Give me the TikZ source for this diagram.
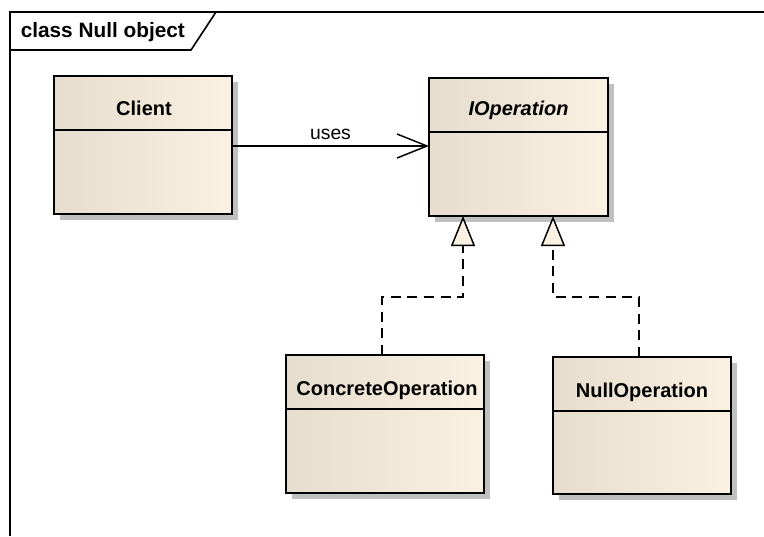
\documentclass[tikz,border=0pt]{standalone}
\usepackage{fontspec}
\setmainfont{Liberation Sans}
\usetikzlibrary{arrows.meta,calc}
\definecolor{clsL}{RGB}{230,221,206}
\definecolor{clsM}{RGB}{249,239,224}
\definecolor{clsR}{RGB}{251,241,227}
\definecolor{shad}{RGB}{192,192,192}
\begin{document}
\begin{tikzpicture}[x=0.75pt,y=-0.75pt,
  cls/.style={draw=black, line width=1.5pt, left color=clsL, middle color=clsM, right color=clsR,
    inner sep=0pt, outer sep=0pt, anchor=north west, minimum height=103.5pt},
  clsname/.style={anchor=base, inner sep=0pt, font=\fontsize{15}{18}\selectfont\bfseries},
  divider/.style={line width=1.5pt},
  uses/.style={line width=1.1pt, -{Straight Barb[length=22.5pt,width=18pt,line width=1.1pt]}},
  realize/.style={line width=1.1pt, dash pattern=on 7.5pt off 5pt,
    -{Triangle[open,fill=clsR,length=22.5pt,width=18pt,line width=1.1pt]}},
  frameline/.style={line width=1.2pt}
]
\useasboundingbox[fill=white] (0,0) rectangle (764,536);

% frame
\draw[frameline] (10,536) -- (10,12) -- (764,12);
\draw[frameline] (10,50) -- (191,50) -- (216,12);
\node[anchor=base west, inner sep=0pt, font=\fontsize{15.6}{18}\selectfont\bfseries] (title) at (20.5,37.5) {class Null object};

% shadows
\fill[shad] (60,82) rectangle (238,220);
\fill[shad] (435,84) rectangle (614,222);
\fill[shad] (292,361) rectangle (490,499);
\fill[shad] (559,363) rectangle (737,500);

% classes
\node[cls, minimum width=133.5pt] (client) at (54,76) {};
\draw[divider] ($(client.north west)+(0,54)$) -- ($(client.north east)+(0,54)$);
\node[clsname] (clientname) at ($(client.north)+(1,39)$) {Client};

\node[cls, minimum width=134.25pt] (iop) at (429,78) {};
\draw[divider] ($(iop.north west)+(0,54)$) -- ($(iop.north east)+(0,54)$);
\node[clsname, font=\fontsize{15}{18}\selectfont\bfseries\itshape] (iopname) at ($(iop.north)+(0,37)$) {IOperation};

\node[cls, minimum width=148.5pt] (conc) at (286,355) {};
\draw[divider] ($(conc.north west)+(0,54)$) -- ($(conc.north east)+(0,54)$);
\node[clsname] (concname) at ($(conc.north)+(2,40)$) {ConcreteOperation};

\node[cls, minimum width=133.5pt, minimum height=103pt] (nullop) at (553,357) {};
\draw[divider] ($(nullop.north west)+(0,54)$) -- ($(nullop.north east)+(0,54)$);
\node[clsname] (nullname) at ($(nullop.north)+(0,40)$) {NullOperation};

% uses association
\draw[uses] (client.east |- 0,146) -- node[above=4pt, inner sep=0pt, font=\fontsize{14.5}{17}\selectfont] (useslabel) {uses} (iop.west |- 0,146);

% realizations
\coordinate (a1) at (iop.south -| 463,0);
\coordinate (a2) at (iop.south -| 553,0);
\coordinate (c1) at (conc.north -| 382,0);
\coordinate (n1) at (nullop.north -| 639,0);
\draw[realize] (c1) |- (463,297) -- (a1);
\draw[realize] (n1) |- (553,297) -- (a2);
\end{tikzpicture}
\end{document}
